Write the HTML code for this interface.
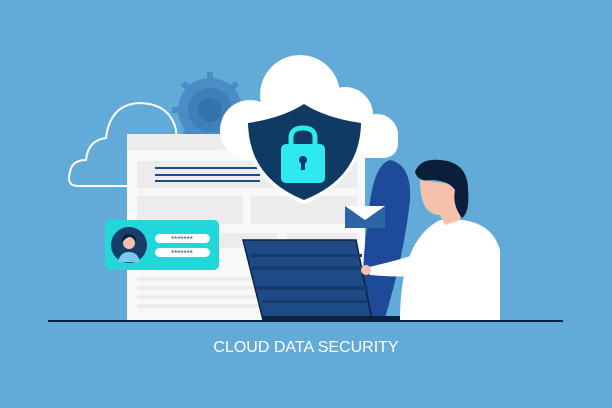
<!DOCTYPE html>
<html><head><style>body{margin:0;background:#62aad8}svg{display:block}</style></head><body>
<svg width="612" height="408" viewBox="0 0 612 408" xmlns="http://www.w3.org/2000/svg">
<rect width="612" height="408" fill="#62aad8"/>
<!-- outline cloud -->
<path d="M78 186 Q66 186 70 172 Q72 160 86 160 Q88 140 106 138 Q110 104 140 103 Q170 104 176 130 L180 186 Z" fill="none" stroke="#fff" stroke-width="2"/>
<!-- gear -->
<g fill="#4a8cc4">
<circle cx="210" cy="110" r="32"/>
<g stroke="#4a8cc4" stroke-width="6">
<line x1="210" y1="72" x2="210" y2="148"/><line x1="172" y1="110" x2="248" y2="110"/>
<line x1="183" y1="83" x2="237" y2="137"/><line x1="237" y1="83" x2="183" y2="137"/>
</g></g>
<circle cx="210" cy="110" r="22" fill="#3d7fb8"/>
<circle cx="210" cy="110" r="12" fill="#3473aa"/>
<!-- document -->
<rect x="127" y="134" width="238" height="186" fill="#f8f8f8"/>
<rect x="127" y="134" width="238" height="16" fill="#ececec"/>
<rect x="137" y="161" width="220" height="27" fill="#ececec"/>
<rect x="155" y="167" width="105" height="2" fill="#1e4a85"/>
<rect x="155" y="174" width="105" height="2" fill="#1e4a85"/>
<rect x="155" y="180" width="105" height="2" fill="#1e4a85"/>
<rect x="137" y="196" width="106" height="28" fill="#ececec"/>
<rect x="251" y="196" width="106" height="28" fill="#ececec"/>
<rect x="137" y="233" width="140" height="15" fill="#ececec"/>
<rect x="287" y="233" width="70" height="15" fill="#ececec"/>
<rect x="137" y="277" width="130" height="4" fill="#ececec"/>
<rect x="137" y="286" width="130" height="4" fill="#ececec"/>
<rect x="137" y="295" width="130" height="4" fill="#ececec"/>
<rect x="137" y="304" width="130" height="4" fill="#ececec"/>
<!-- big cloud -->
<g fill="#fff">
<circle cx="300" cy="95" r="40"/><circle cx="250" cy="130" r="30"/><circle cx="345" cy="115" r="28"/><circle cx="377" cy="135" r="21"/>
<rect x="230" y="120" width="168" height="38" rx="14"/>
</g>
<!-- shield -->
<path d="M304 100 Q280 116 244 120 Q244 180 304 204 Q364 180 365 120 Q328 116 304 100Z" fill="#fff"/>
<path d="M304 104 Q282 118 248 123 Q249 178 304 200 Q360 178 361 123 Q326 118 304 104Z" fill="#0f3a63"/>
<path d="M291 145 V138 Q291 128 303 128 Q315 128 315 138 V145" fill="none" stroke="#2ee9f1" stroke-width="5"/>
<rect x="281" y="144" width="44" height="39" rx="5" fill="#2ee9f1"/>
<circle cx="303" cy="160" r="4" fill="#0f3a63"/><rect x="301" y="160" width="4" height="10" fill="#0f3a63"/>
<!-- card -->
<rect x="105" y="220" width="114" height="50" rx="5" fill="#22d7d9"/>
<circle cx="129" cy="245" r="18" fill="#153f6b"/>
<path d="M118 262 Q120 252 129 252 Q138 252 140 262 Z" fill="#7cc8ee"/>
<circle cx="129" cy="243" r="6" fill="#f6c1ac"/>
<path d="M122 243 Q122 234 129 234 Q136 234 136 243 Q133 236 129 237 Q125 238 122 243Z" fill="#0b1e3a"/>
<rect x="155" y="234" width="55" height="9" rx="4.5" fill="#fff"/>
<rect x="155" y="248" width="55" height="9" rx="4.5" fill="#fff"/>
<text x="182" y="242" font-family="Liberation Sans,sans-serif" font-size="8" fill="#1e4a85" text-anchor="middle">*******</text>
<text x="182" y="256" font-family="Liberation Sans,sans-serif" font-size="8" fill="#1e4a85" text-anchor="middle">*******</text>
<!-- leaf -->
<path d="M390 160 Q412 165 410 200 Q405 250 385 318 L365 318 Q360 270 368 220 Q372 165 390 160Z" fill="#1e4a9a"/>
<!-- envelope -->
<rect x="345" y="206" width="40" height="22" fill="#2d64a8"/>
<path d="M345 206 L365 220 L385 206Z" fill="#fff"/>
<!-- laptop -->
<path d="M243 240 L356 240 L372 320 L263 320Z" fill="#1e4a85" stroke="#0b2340" stroke-width="1.5"/>
<rect x="250" y="254" width="112" height="3" fill="#163b6c"/>
<rect x="252" y="266" width="112" height="4" fill="#163b6c"/>
<rect x="256" y="286" width="112" height="4" fill="#163b6c"/>
<rect x="262" y="300" width="106" height="3" fill="#163b6c"/>
<rect x="263" y="316" width="157" height="4" fill="#0b2340"/>
<!-- person -->
<path d="M400 320 Q400 240 440 220 Q490 215 500 250 L500 320Z" fill="#fff"/>
<path d="M365 268 Q400 260 430 250 L435 275 Q400 278 370 275Z" fill="#fff"/>
<circle cx="366" cy="270" r="5" fill="#f6c1ac"/>
<path d="M420 180 Q420 215 440 215 L445 225 L460 220 L460 185Z" fill="#f6c1ac"/>
<path d="M415 172 Q420 158 440 160 Q468 162 468 190 Q470 212 462 218 Q452 205 455 190 Q448 180 430 180 Q418 182 415 172Z" fill="#0b1e3a"/>
<!-- ground -->
<rect x="48" y="320" width="515" height="2" fill="#0b2340"/>
<text x="306" y="352" font-family="Liberation Sans,sans-serif" font-size="16" fill="#fff" text-anchor="middle">CLOUD DATA SECURITY</text>
</svg>
</body></html>
